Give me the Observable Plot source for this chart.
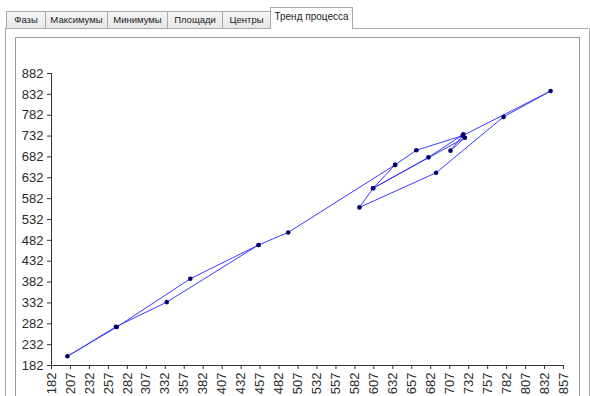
<!DOCTYPE html>
<html>
<head>
<meta charset="utf-8">
<script src="https://cdn.jsdelivr.net/npm/d3@7"></script>
<script src="https://cdn.jsdelivr.net/npm/@observablehq/plot@0.6"></script>
<style>
  html, body { margin: 0; padding: 0; background: #fff; }
  #page { position: relative; width: 590px; height: 396px; overflow: hidden; background: #fff; font-family: "Liberation Sans", Arial, sans-serif; }
  .tab { position: absolute; top: 11px; height: 16px; border: 1px solid #a9a9a9; border-bottom: none;
         background: linear-gradient(#f6f6f6, #e6e6e6); font-size: 9.5px; color: #222; text-align: center;
         line-height: 16px; box-sizing: border-box; height: 17px; white-space: nowrap; }
  .tab.active { top: 7px; height: 22px; background: #fff; line-height: 18px; z-index: 3; font-size: 10px; }
  #strip { position: absolute; left: 5px; right: 2px; top: 28px; border-top: 1px solid #a9a9a9; }
  #panel { position: absolute; left: 5px; top: 28px; width: 583px; height: 400px; border-left: 1px solid #a9a9a9; border-right: 1px solid #a9a9a9; }
  #frame { position: absolute; left: 15px; top: 37px; width: 563px; height: 400px; border: 1px solid #9a9a9a; border-bottom: none; }
  #chart { position: absolute; left: 0; top: 0; z-index: 2; }
</style>
</head>
<body>
<div id="page">
  <div id="strip"></div>
  <div id="panel"></div>
  <div id="frame"></div>
  <div id="tabs"></div>
  <div id="chart"></div>
</div>
<script>
// Tabs
const tabNames = ["Фазы", "Максимумы", "Минимумы", "Площади", "Центры", "Тренд процесса"];
const activeTab = "Тренд процесса";

// Axis tick values
const xTicks = [182, 207, 232, 257, 282, 307, 332, 357, 382, 407, 432, 457, 482, 507, 532, 557, 582, 607, 632, 657, 682, 707, 732, 757, 782, 807, 832, 857];
const yTicks = [182, 232, 282, 332, 382, 432, 482, 532, 582, 632, 682, 732, 782, 832, 882];

// Process trend sequence (x, y) in order
const seqX = [455, 334, 267, 203, 268, 365, 455, 494, 635, 606, 679, 725, 708, 727, 606, 588, 689, 778, 840, 724, 663, 635];
const seqY = [471, 334, 275, 204, 274, 390, 471, 501, 663, 607, 681, 736, 697, 728, 607, 561, 644, 778, 840, 733, 698, 663];

// Tabs layout
const tabEdges = [6, 45, 107, 167, 222, 270, 352];
const tabsEl = document.getElementById("tabs");
tabNames.forEach((name, i) => {
  const d = document.createElement("div");
  d.className = "tab" + (name === activeTab ? " active" : "");
  d.style.left = tabEdges[i] + "px";
  d.style.width = (tabEdges[i + 1] - tabEdges[i] + 1) + "px";
  d.textContent = name;
  tabsEl.appendChild(d);
});

const data = seqX.map((x, i) => ({x, y: seqY[i]}));

const chart = Plot.plot({
  width: 590,
  height: 396,
  marginLeft: 51,
  marginRight: 27,
  marginTop: 73,
  marginBottom: 31,
  x: {domain: [182, 857]},
  y: {domain: [182, 882]},
  style: {background: "transparent", fontFamily: "Liberation Sans, Arial, sans-serif", fontSize: "13px", color: "#2a2a2a"},
  marks: [
    Plot.axisX(xTicks, {tickRotate: -90, tickSize: 4, tickPadding: 3, label: null, stroke: "#333"}),
    Plot.axisY(yTicks, {tickSize: 4, tickPadding: 4, label: null, stroke: "#333"}),
    Plot.ruleX([182], {stroke: "#333"}),
    Plot.ruleY([182], {stroke: "#333"}),
    Plot.line(data, {x: "x", y: "y", stroke: "#3a3aff", strokeWidth: 1, curve: "linear"}),
    Plot.dot(data, {x: "x", y: "y", r: 2.3, fill: "#000070", stroke: "none"})
  ]
});
document.getElementById("chart").appendChild(chart);
</script>
</body>
</html>
